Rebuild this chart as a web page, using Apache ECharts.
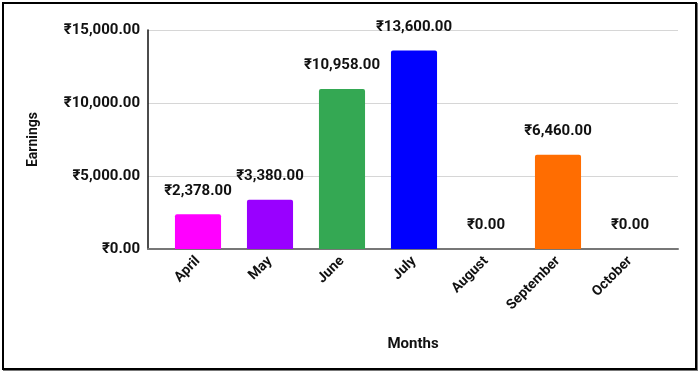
<!DOCTYPE html>
<html>
<head>
<meta charset="utf-8">
<script src="https://cdn.jsdelivr.net/npm/echarts@6/dist/echarts.min.js"></script>
<style>
  html, body { margin: 0; padding: 0; background: #fff; }
  #frame { position: absolute; left: 2px; top: 2px; width: 691px; height: 364px; border: 2px solid #000; box-shadow: 1px 1px 0 #777; }
  #chart { position: absolute; left: 0; top: 0; width: 700px; height: 373px; }
</style>
</head>
<body>
<div id="frame"></div>
<div id="chart"></div>
<script>
const months = ['April', 'May', 'June', 'July', 'August', 'September', 'October'];
const earnings = [2378, 3380, 10958, 13600, 0, 6460, 0];
const barColors = ['#ff00ff', '#9900ff', '#34a853', '#0000ff', '#ff9900', '#ff6d01', '#46bdc6'];
const yTicks = [0, 5000, 10000, 15000];

function rupee(v) {
  return '\u20B9' + Number(v).toLocaleString('en-US', { minimumFractionDigits: 2, maximumFractionDigits: 2 });
}

const FONT = 'Roboto, "Noto Sans", Arial, sans-serif';
const FS = 15;
const chart = echarts.init(document.getElementById('chart'), null, { renderer: 'canvas' });

chart.setOption({
  animation: false,
  backgroundColor: 'transparent',
  textStyle: { fontFamily: FONT },
  grid: [
    { left: 148, right: 22, top: 30, bottom: 124 },
    { left: 162, right: 34, top: 30, bottom: 124 }
  ],
  xAxis: [
    {
      gridIndex: 0, type: 'value', min: 0, max: 1,
      axisLine: { show: true, lineStyle: { color: '#777', width: 2 } },
      axisTick: { show: false }, axisLabel: { show: false }, splitLine: { show: false },
      name: 'Months', nameLocation: 'middle', nameGap: 88,
      nameTextStyle: { fontFamily: FONT, fontSize: FS, fontWeight: 'bold', color: '#111' }
    },
    {
      gridIndex: 1, type: 'category', data: months,
      axisLine: { show: false }, axisTick: { show: false },
      axisLabel: { rotate: 45, margin: 10, fontFamily: FONT, fontSize: 14, fontWeight: 'bold', color: '#111', interval: 0 }
    }
  ],
  yAxis: [
    {
      gridIndex: 0, type: 'value', min: yTicks[0], max: yTicks[yTicks.length - 1], interval: 5000,
      axisLine: { show: true, lineStyle: { color: '#111', width: 1.5 } },
      axisTick: { show: false },
      axisLabel: { margin: 8, formatter: rupee, fontFamily: FONT, fontSize: FS, fontWeight: 'bold', color: '#111' },
      splitLine: { show: true, lineStyle: { color: '#d6d6d6', width: 1 } },
      name: 'Earnings', nameLocation: 'middle', nameGap: 108, nameRotate: 90,
      nameTextStyle: { fontFamily: FONT, fontSize: 14, fontWeight: 'bold', color: '#111' }
    },
    {
      gridIndex: 1, type: 'value', min: yTicks[0], max: yTicks[yTicks.length - 1], interval: 5000,
      show: false
    }
  ],
  series: [{
    type: 'bar',
    xAxisIndex: 1, yAxisIndex: 1,
    data: earnings.map((v, i) => ({ value: v, itemStyle: { color: barColors[i] } })),
    barCategoryGap: '36%',
    itemStyle: { borderRadius: [2, 2, 0, 0] },
    label: {
      show: true, position: 'top', distance: 16,
      formatter: p => rupee(p.value),
      fontFamily: FONT, fontSize: FS, fontWeight: 'bold', color: '#111'
    },
    z: 3
  }]
});
</script>
</body>
</html>
